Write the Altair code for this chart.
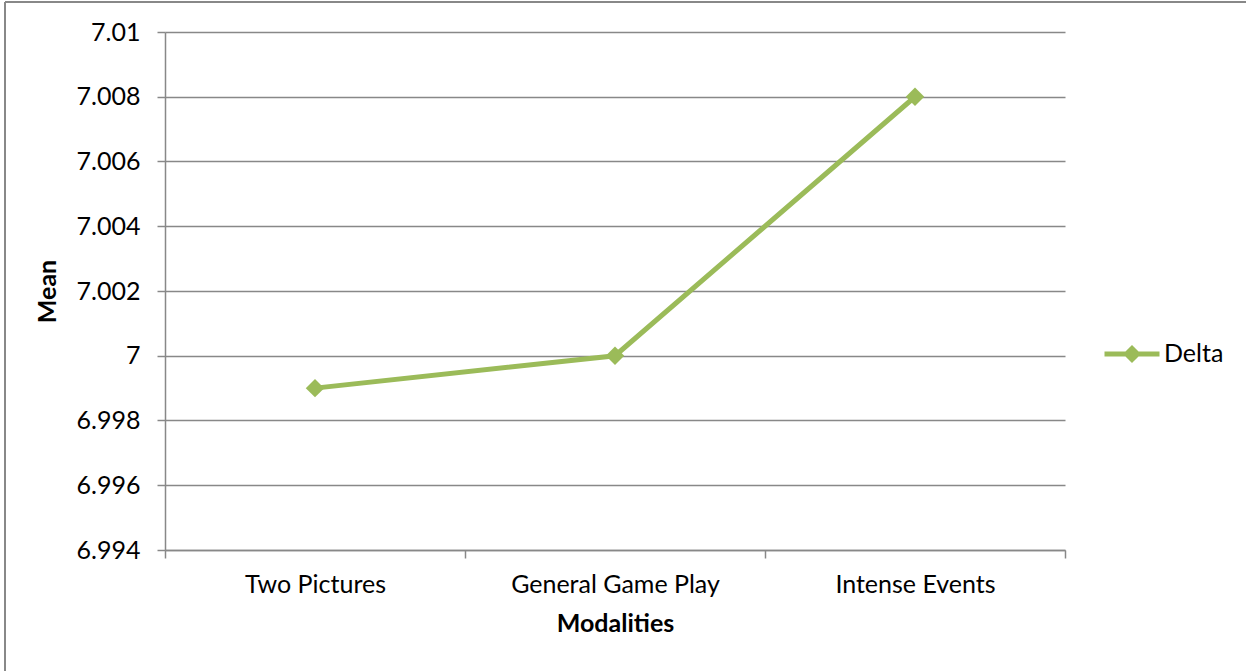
import altair as alt
import pandas as pd

# Mean of the Delta measure for each modality
modalities = ["Two Pictures", "General Game Play", "Intense Events"]
delta_mean = [6.999, 7.000, 7.008]
series_name = "Delta"

y_ticks = [6.994, 6.996, 6.998, 7.000, 7.002, 7.004, 7.006, 7.008, 7.010]

GREEN = "#9BBB59"
GREY = "#888888"
FONT = "Lato"
FONT_SIZE = 25

df = pd.DataFrame({
    "Modality": modalities,
    "Mean": delta_mean,
    "Series": [series_name] * len(modalities),
})

x_enc = alt.X(
    "Modality:N",
    sort=modalities,
    scale=alt.Scale(type="band", paddingInner=0, paddingOuter=0),
    axis=alt.Axis(
        title="Modalities",
        labelAngle=0,
        labelLimit=0,
        tickBand="extent",
        tickSize=8,
        labelPadding=14,
        titlePadding=14,
        domainColor=GREY,
        tickColor=GREY,
        domainWidth=1.5,
        tickWidth=1.5,
        grid=False,
    ),
)
y_enc = alt.Y(
    "Mean:Q",
    scale=alt.Scale(domain=[6.994, 7.010], nice=False, zero=False),
    axis=alt.Axis(
        title="Mean",
        values=y_ticks,
        format=".3~f",
        tickSize=8,
        labelPadding=17,
        titleX=-105,
        titleY=259,
        domainColor=GREY,
        tickColor=GREY,
        gridColor=GREY,
        domainWidth=1.5,
        tickWidth=1.5,
        gridWidth=1.5,
    ),
)
color_enc = alt.Color(
    "Series:N",
    scale=alt.Scale(domain=[series_name], range=[GREEN]),
    legend=alt.Legend(
        title=None,
        orient="none",
        legendX=937,
        legendY=292,
        symbolType="M-1,0H1M0,-0.2L0.2,0L0,0.2L-0.2,0Z",
        symbolSize=3025,
        symbolStrokeWidth=5,
        symbolFillColor=GREEN,
        symbolStrokeColor=GREEN,
        labelFontSize=FONT_SIZE,
        labelFont=FONT,
        labelColor="black",
        labelOffset=2,
    ),
)

line = alt.Chart(df).mark_line(strokeWidth=5).encode(x=x_enc, y=y_enc, color=color_enc)
points = alt.Chart(df).mark_point(shape="diamond", filled=True, size=340, opacity=1).encode(
    x=x_enc, y=y_enc, color=color_enc
)

# outer chart frame (top and left edges)
frame_df = pd.DataFrame({"k": [0]})
frame_top = alt.Chart(frame_df).mark_rule(color=GREY, strokeWidth=2).encode(
    x=alt.value(-160), x2=alt.value(1081), y=alt.value(-30)
)
frame_left = alt.Chart(frame_df).mark_rule(color=GREY, strokeWidth=2).encode(
    x=alt.value(-160), y=alt.value(-30), y2=alt.value(639)
)

chart = (
    alt.layer(line, points, frame_top, frame_left)
    .properties(
        width=900,
        height=518,
        autosize=alt.AutoSizeParams(type="none"),
        padding={"left": 165, "top": 32, "right": 181, "bottom": 121},
        background="white",
    )
    .configure_view(stroke=None)
    .configure_axis(
        labelFont=FONT,
        titleFont=FONT,
        labelFontSize=FONT_SIZE,
        titleFontSize=FONT_SIZE,
        labelColor="black",
        titleColor="black",
        titleFontWeight="bold",
    )
)

chart.save("out.html", embed_options={"renderer": "svg", "actions": False})
